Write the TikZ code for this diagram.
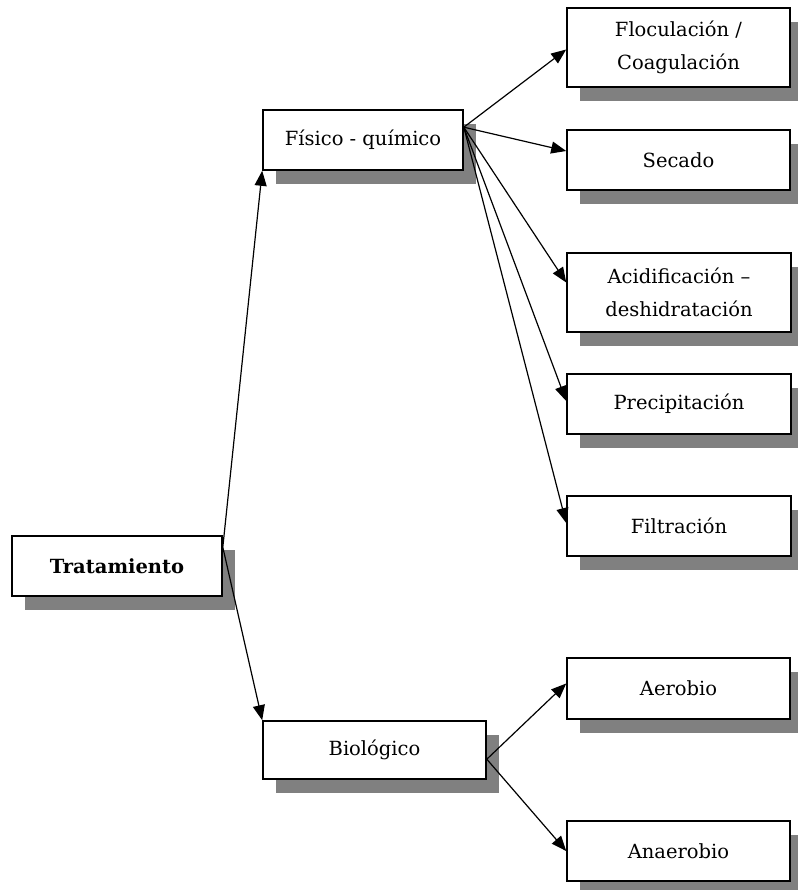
\documentclass[tikz,border=0pt]{standalone}
\usepackage{fontspec}
\setmainfont{DejaVu Serif}
\usetikzlibrary{arrows.meta,shadows}
\definecolor{shadowgray}{RGB}{128,128,128}
\begin{document}
\begin{tikzpicture}[x=1pt,y=-1pt,
  box/.style={draw=black, line width=1.6pt, fill=white, rectangle,
    inner sep=0pt, align=center,
    font=\fontsize{19.5}{33}\selectfont,
    drop shadow={shadow xshift=13pt, shadow yshift=-14pt,
      fill=shadowgray, draw=none, opacity=1}},
  link/.style={line width=1.2pt, -{Triangle[length=15pt,width=12pt]}}]
\useasboundingbox (0,0) rectangle (797,890);

% root and the two branches
\node[box, minimum width=210pt, minimum height=60pt,
  font=\fontsize{19.5}{33}\selectfont\bfseries] (trat) at (117,566) {Tratamiento};
\node[box, minimum width=200pt, minimum height=60pt] (fis) at (363,140) {Físico - químico};
\node[box, minimum width=223pt, minimum height=58pt] (bio) at (374.5,750) {Biológico};

% physico-chemical treatments
\node[box, minimum width=223pt, minimum height=79pt] (floc) at (678.5,47.5) {Floculación /\\Coagulación};
\node[box, minimum width=223pt, minimum height=60pt] (sec) at (678.5,160) {Secado};
\node[box, minimum width=224pt, minimum height=79pt] (acid) at (679,292.5) {Acidificación –\\deshidratación};
\node[box, minimum width=224pt, minimum height=60pt] (prec) at (679,404) {Precipitación};
\node[box, minimum width=224pt, minimum height=60pt] (filt) at (679,526) {Filtración};

% biological treatments
\node[box, minimum width=223pt, minimum height=61pt] (aer) at (678.5,688.5) {Aerobio};
\node[box, minimum width=223pt, minimum height=60pt] (anae) at (678.5,851) {Anaerobio};

% connectors
\coordinate (tratout) at ([yshift=-12pt]trat.north east);
\draw[link] (tratout) -- (fis.south west);
\draw[link] (tratout) -- (bio.north west);

\coordinate (fisout) at ([yshift=-18pt]fis.north east);
\draw[link] (fisout) -- ([yshift=-2pt]floc.west);
\draw[link] (fisout) -- ([yshift=9pt]sec.west);
\draw[link] (fisout) -- ([yshift=10pt]acid.west);
\draw[link] (fisout) -- ([yshift=3pt]prec.west);
\draw[link] (fisout) -- ([yshift=3pt]filt.west);

\coordinate (bioout) at ([yshift=-39pt]bio.north east);
\draw[link] (bioout) -- ([yshift=5pt]aer.west);
\draw[link] (bioout) -- (anae.west);
\end{tikzpicture}
\end{document}
